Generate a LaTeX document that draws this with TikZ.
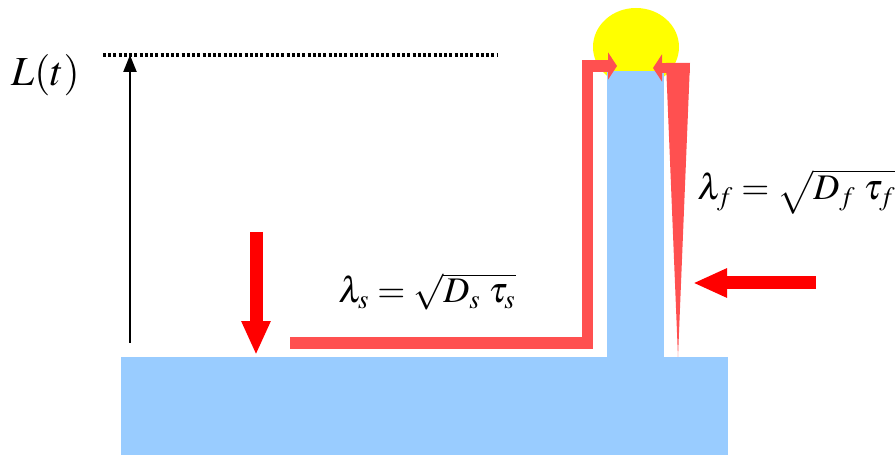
\documentclass[tikz,border=0pt]{standalone}
\usepackage{mathptmx}
\usepackage{tikz}
\usetikzlibrary{arrows.meta, positioning}
\definecolor{finblue}{HTML}{99CCFF}
\definecolor{fluxred}{HTML}{FF5050}
\definecolor{dropyellow}{HTML}{FFFF00}

\begin{document}
\begin{tikzpicture}[
    x=0.02cm, y=-0.02cm,
    formula/.style={inner sep=0pt, anchor=base west, font=\fontsize{20.5}{22}\selectfont},
    bigarrow/.style={red, line width=0.26cm, -{Triangle[length=0.68cm, width=0.54cm]}},
    fluxarrow/.style={fluxred, line width=0.23cm, miter limit=4,
                     -{Triangle[length=0.18cm, width=0.54cm]}},
    growth/.style={black, line width=0.045cm, -{Triangle[length=0.34cm, width=0.26cm]}}
]
\useasboundingbox (0,0) rectangle (896,455);

% Substrate, fin and droplet
\fill[dropyellow] (636,47) ellipse [x radius=43, y radius=39];
\fill[finblue] (121,357) rectangle (728,455);
\fill[finblue] (607,71) rectangle (664,357);

% Length of the fin
\coordinate (base) at (130,343);
\coordinate (top) at (130,55);
\coordinate (lvl-a) at (103,55);
\coordinate (lvl-b) at (497,55);
\draw[black, line width=0.07cm, dash pattern=on 0.06cm off 0.045cm] (lvl-a) -- (lvl-b);
\draw[growth] (base) -- (top);
\node[formula, font=\fontsize{23.5}{26}\selectfont] (len) at (11,86) {$L(t)$};

% Surface diffusion path
\coordinate (s0) at (290,343);
\coordinate (s1) at (587.5,343);
\coordinate (s2) at (587.5,66);
\coordinate (s3) at (617,66);
\draw[fluxarrow] (s0) -- (s1) -- (s2) -- (s3);

% Flux down the side of the fin
\fill[fluxred] (666,63) -- (690,63) -- (678,357) -- cycle;
\coordinate (f0) at (690,68);
\coordinate (f1) at (653,68);
\draw[fluxarrow, line width=0.2cm] (f0) -- (f1);

% Incoming flux
\coordinate (in-s0) at (256,232);
\coordinate (in-s1) at (256,355);
\coordinate (in-f0) at (816,283);
\coordinate (in-f1) at (693,283);
\draw[bigarrow] (in-s0) -- (in-s1);
\draw[bigarrow] (in-f0) -- (in-f1);

% Diffusion lengths
\node[formula] (lams) at (338,303) {$\lambda_s = \sqrt{D_s\;\tau_s}$};
\node[formula] (lamf) at (697,200) {$\lambda_f = \sqrt{D_f\;\tau_f}$};

\end{tikzpicture}
\end{document}
